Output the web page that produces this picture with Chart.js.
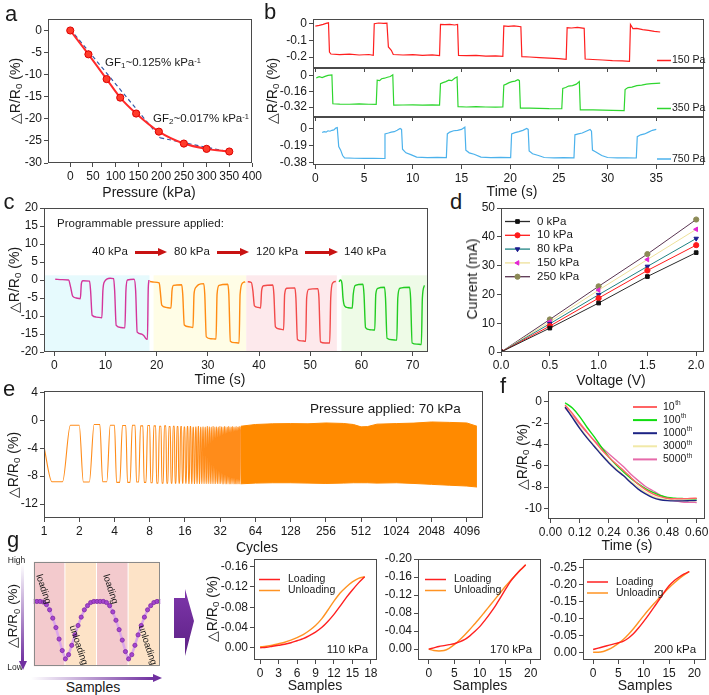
<!DOCTYPE html>
<html>
<head>
<meta charset="utf-8">
<script src="https://cdn.jsdelivr.net/npm/chart.js@4.4.1/dist/chart.umd.min.js"></script>
<style>
  body { margin: 0; background: #fff; }
  #stage { position: relative; width: 709px; height: 695px; overflow: hidden;
           font-family: 'Liberation Sans', Arial, sans-serif; color: #1a1a1a; }
  .t { position: absolute; white-space: nowrap; line-height: 1; }
  .t sub { font-size: 0.7em; vertical-align: -0.25em; line-height: 0; }
  .t sup { font-size: 0.65em; vertical-align: 0.5em; line-height: 0; }
  .shape { position: absolute; }
</style>
</head>
<body>
<div id="stage"></div>
<script>
// ---------- panel a: response vs pressure
const aPressure = [0, 40, 80, 110, 145, 195, 250, 300, 350];
const aResponse = [0, -5.4, -11.0, -15.2, -18.8, -22.9, -25.6, -26.8, -27.4];
const aFitLow = [[0, 0.3], [198, -24.3]];
const aFitHigh = [[198, -24.3], [355, -27.6]];
const aXTicks = [0, 50, 100, 150, 200, 250, 300, 350, 400];
const aYTicks = [-30, -25, -20, -15, -10, -5, 0];

// ---------- panel b: [time s, dR/R0 %]
const bPa150 = [[0.0,-0.015],[0.4,-0.010],[0.8,-0.004],[1.1,0.002],[1.35,0.005],[1.45,-0.170],[1.6,-0.182],[2.5,-0.186],[3.5,-0.183],[4.5,-0.188],[5.5,-0.185],[5.95,-0.190],
  [6.05,0.000],[6.5,0.004],[7.0,0.002],[7.35,0.003],[7.5,-0.140],[7.8,-0.160],[8.0,-0.185],[9.0,-0.188],[10.0,-0.186],[11.0,-0.190],[12.0,-0.187],[12.75,-0.191],
  [12.85,-0.004],[13.3,-0.006],[13.8,-0.004],[14.3,-0.008],[14.6,-0.005],[14.7,-0.190],[15.5,-0.192],[16.5,-0.190],[17.5,-0.195],[18.5,-0.193],[19.25,-0.196],
  [19.35,-0.014],[19.8,-0.016],[20.4,-0.013],[21.1,-0.018],[21.2,-0.198],[22,-0.200],[23,-0.204],[24,-0.207],[25,-0.210],[25.75,-0.214],
  [25.85,-0.024],[26.3,-0.026],[26.9,-0.022],[27.6,-0.028],[27.7,-0.212],[28.5,-0.215],[29.5,-0.218],[30.5,-0.222],[31.5,-0.223],[32.25,-0.226],
  [32.35,-0.005],[32.6,-0.030],[33,-0.028],[33.6,-0.036],[34.2,-0.040],[34.8,-0.046],[35.4,-0.050]];
const bPa350 = [[0.1,-0.022],[0.4,-0.010],[0.7,-0.018],[1.0,-0.006],[1.3,0.004],[1.7,0.008],[1.8,-0.285],[2.5,-0.288],[3.5,-0.290],[4.5,-0.287],[5.5,-0.290],[6.25,-0.292],
  [6.35,-0.045],[6.6,-0.050],[6.8,-0.030],[7.1,-0.025],[7.4,-0.015],[7.7,-0.008],[7.95,0.010],[8.05,-0.300],[9,-0.298],[10,-0.297],[11,-0.300],[12,-0.296],[12.75,-0.300],
  [12.85,-0.080],[13.1,-0.070],[13.4,-0.060],[13.7,-0.045],[14.0,-0.050],[14.3,-0.025],[14.55,-0.012],[14.65,-0.315],[15.5,-0.318],[16.5,-0.314],[17.5,-0.318],[18.5,-0.320],[19.25,-0.318],
  [19.35,-0.095],[19.6,-0.085],[19.9,-0.070],[20.2,-0.060],[20.5,-0.055],[20.8,-0.040],[20.95,-0.050],[21.05,-0.330],[22,-0.330],[23,-0.332],[24,-0.335],[25.3,-0.336],
  [25.4,-0.130],[25.7,-0.120],[26.0,-0.105],[26.4,-0.100],[26.8,-0.085],[27.1,-0.058],[27.2,-0.348],[28.5,-0.348],[29.5,-0.350],[30.5,-0.352],[31.7,-0.354],
  [31.8,-0.140],[32.1,-0.120],[32.5,-0.115],[33,-0.100],[33.5,-0.095],[34,-0.085],[34.5,-0.080],[35,-0.078],[35.4,-0.076]];
const bPa750 = [[0.7,-0.045],[0.9,-0.035],[1.1,-0.040],[1.3,-0.025],[1.5,-0.030],[1.7,-0.020],[1.9,-0.015],[2.1,0.005],[2.25,0.010],[2.4,-0.200],[2.6,-0.240],[2.8,-0.300],[3.0,-0.325],[4,-0.330],[5,-0.332],[6,-0.330],[7.05,-0.333],
  [7.15,-0.060],[7.5,-0.050],[7.8,-0.040],[8.1,-0.035],[8.4,-0.020],[8.7,0.000],[8.85,-0.010],[8.95,-0.230],[9.3,-0.270],[9.8,-0.290],[10.4,-0.318],[11.5,-0.322],[12.5,-0.320],[13.45,-0.323],
  [13.55,-0.060],[13.8,-0.040],[14.2,-0.025],[14.6,-0.020],[15.0,-0.010],[15.35,0.015],[15.45,-0.240],[15.8,-0.270],[16.3,-0.285],[17,-0.318],[18,-0.322],[19,-0.320],[20.05,-0.324],
  [20.15,-0.060],[20.5,-0.045],[20.9,-0.035],[21.3,-0.020],[21.7,0.000],[21.85,-0.010],[21.95,-0.250],[22.3,-0.280],[22.9,-0.300],[23.5,-0.322],[24.5,-0.325],[25.5,-0.323],[26.55,-0.326],
  [26.65,-0.070],[27,-0.060],[27.4,-0.050],[27.8,-0.030],[28.2,-0.010],[28.35,-0.030],[28.45,-0.240],[28.8,-0.260],[29.1,-0.280],[29.4,-0.300],[30,-0.322],[31,-0.326],[32,-0.325],[32.95,-0.327],
  [33.05,-0.090],[33.4,-0.070],[33.8,-0.060],[34.2,-0.040],[34.6,-0.020],[35.0,-0.010]];
const bXTicks = [0, 5, 10, 15, 20, 25, 30, 35];
const bYTicks150 = [-0.2, -0.1, 0];
const bYTicks350 = [-0.32, -0.16, 0];
const bYTicks750 = [-0.38, -0.19, 0];

// ---------- panel c: [time s, dR/R0 %]
const c40kPa = [[0.2,0.2],[1.5,0.1],[2.8,0.0],[3.2,-2.0],[3.6,-4.5],[4.3,-5.0],[5.1,-5.2],[5.3,-1.0],[5.6,-0.2],[6.9,-0.3],[7.1,-3],[7.4,-9.8],[8.2,-10.3],[9.3,-10.5],[9.5,-3.0],[9.8,-0.5],[10.9,0.5],[11.6,0.4],[11.8,-3],[12.1,-12.6],[13.0,-13.2],[13.8,-13.3],[14.0,-3],[14.3,0.0],[15.6,0.2],[15.9,-3],[16.2,-14.5],[17.0,-15.0],[17.5,-15.5],[18.0,-16.4],[18.2,-16.5],[18.35,-3],[18.5,0]];
const c80kPa = [[18.7,-0.4],[19.5,-0.6],[20.5,-0.8],[20.7,-3],[21.0,-7.0],[21.8,-7.6],[22.8,-7.8],[23.0,-3],[23.3,-1.5],[24.9,-1.3],[25.1,-4],[25.4,-12.5],[26.3,-13.0],[27.1,-13.2],[27.3,-4],[27.7,-2.0],[28.2,-1.3],[29.2,-1.0],[29.4,-4],[29.7,-15.8],[30.6,-16.3],[31.6,-16.4],[31.8,-4],[32.2,-1.5],[33.9,-1.2],[34.1,-4],[34.4,-17.0],[35.2,-17.4],[36.1,-17.5],[36.3,-4],[36.8,-0.8],[37.3,-0.5]];
const c120kPa = [[37.8,-0.5],[38.5,-0.7],[38.8,-3],[39.1,-7.2],[39.8,-7.6],[40.3,-7.8],[40.5,-3],[40.9,-1.6],[42.7,-1.4],[42.9,-4],[43.2,-13.0],[44.0,-13.6],[44.8,-13.8],[45.0,-4],[45.4,-2.3],[47.0,-2.2],[47.2,-5],[47.5,-16.5],[48.3,-16.9],[49.1,-17.0],[49.3,-5],[49.7,-2.6],[51.5,-2.4],[51.7,-5],[52.0,-17.2],[52.9,-17.5],[53.8,-17.5],[54.0,-5],[54.4,-0.8],[55.0,-0.4]];
const c140kPa = [[55.6,-0.5],[55.9,0.0],[56.2,-1.0],[56.4,-5],[56.7,-7.2],[57.4,-7.7],[58.2,-7.8],[58.4,-4],[58.8,-1.5],[60.3,-1.2],[60.5,-4],[60.8,-13.2],[61.6,-13.8],[62.6,-13.9],[62.8,-4],[63.2,-2.3],[64.5,-2.0],[64.7,-5],[65.0,-16.2],[66.0,-16.6],[66.9,-16.7],[67.1,-5],[67.5,-2.3],[69.4,-2.0],[69.6,-5],[69.9,-17.5],[70.8,-17.8],[71.7,-17.9],[71.9,-5],[72.3,-1.5]];
const cBandFrom = [-2, 19.4, 37.5, 56.1];
const cBandTo = [18.6, 37.5, 55.2, 73];
const cBandTop = 1.3;
const cXTicks = [0, 10, 20, 30, 40, 50, 60, 70];
const cYTicks = [-20, -15, -10, -5, 0, 5, 10, 15, 20];

// ---------- panel d: I-V
const dVoltage = [0, 0.5, 1.0, 1.5, 2.0];
const d0kPa = [0, 8.3, 17.0, 26.2, 34.5];
const d10kPa = [0, 9.0, 18.7, 28.3, 37.1];
const d80kPa = [0, 9.8, 19.9, 29.7, 39.4];
const d150kPa = [0, 10.5, 21.5, 32.1, 42.6];
const d250kPa = [0, 11.3, 22.8, 34.0, 46.0];
const dXTicks = [0, 0.5, 1.0, 1.5, 2.0];
const dYTicks = [0, 10, 20, 30, 40, 50];

// ---------- panel e: cycling at 70 kPa
const eStart = -3.8;
const eTop = [-0.7,-0.6,-0.7,-0.75,-0.7,-0.8,-0.75,-0.8,-0.85,-0.8,-0.9,-0.85,-0.9,-0.9,-0.95,-0.9,
  -0.9,-1.0,-0.95,-0.9,-1.0,-0.95,-1.0,-0.9,-0.95,-1.0,-0.9,-1.0,-0.95,-1.0,-0.9,-0.95,
  -1.0,-0.9,-0.95,-1.0,-0.9,-0.95,-1.0,-0.9,-1.0,-0.95,-0.9,-1.0,-0.95,-0.9,-0.95];
const eBot = [-8.8,-8.85,-8.8,-8.9,-8.9,-8.85,-8.9,-8.95,-9.0,-9.0,-9.0,-9.0,-9.0,-9.0,-9.0,-9.0,
  -9.05,-9.05,-9.05,-9.05,-9.05,-9.05,-9.05,-9.05,-9.05,-9.05,-9.05,-9.05,-9.05,-9.05,-9.05,-9.05,
  -9.1,-9.1,-9.1,-9.1,-9.1,-9.1,-9.1,-9.1,-9.1,-9.1,-9.1,-9.1,-9.1,-9.1,-9.1];
const ePhase = [0.17, 0.44, 0.68];
const eEnvCycle = [48, 64, 90, 128, 180, 256, 360, 440, 512, 580, 700, 1024, 1448, 2048, 2896, 4096, 5000];
const eEnvTop = [-0.85, -0.6, -0.5, -0.47, -0.5, -0.38, -0.45, -0.6, -0.94, -0.9, -0.55, -0.47, -0.4, -0.24, -0.3, -0.38, -0.85];
const eEnvBot = [-9.1, -9.0, -8.95, -8.95, -9.0, -9.05, -9.0, -8.95, -8.95, -8.95, -9.0, -8.95, -9.05, -9.18, -9.3, -9.42, -9.56];
const eXTicks = [1, 2, 4, 8, 16, 32, 64, 128, 256, 512, 1024, 2048, 4096];
const eYTicks = [-12, -8, -4, 0, 4];

// ---------- panel f: single loading at various cycles
const fTime = [0.06,0.09,0.12,0.15,0.18,0.21,0.24,0.27,0.30,0.33,0.36,0.39,0.42,0.45,0.48,0.51,0.54,0.57,0.60];
const f10th = [-0.3,-1.1,-2.0,-2.85,-3.7,-4.5,-5.2,-5.85,-6.45,-7.1,-7.75,-8.25,-8.65,-8.9,-9.05,-9.1,-9.1,-9.08,-9.05];
const f100th = [-0.1,-0.6,-1.4,-2.4,-3.3,-4.3,-5.2,-5.95,-6.6,-7.2,-7.7,-8.15,-8.5,-8.8,-8.98,-9.05,-9.08,-9.1,-9.1];
const f1000th = [-0.5,-1.5,-2.5,-3.4,-4.2,-5.0,-5.75,-6.4,-6.95,-7.6,-8.2,-8.65,-9.0,-9.2,-9.28,-9.3,-9.3,-9.28,-9.25];
const f3000th = [-0.4,-1.4,-2.4,-3.3,-4.1,-4.9,-5.65,-6.3,-6.9,-7.5,-8.0,-8.5,-8.85,-9.1,-9.2,-9.25,-9.28,-9.3,-9.3];
const f5000th = [-0.6,-1.3,-2.1,-2.9,-3.65,-4.3,-4.9,-5.5,-6.1,-6.8,-7.4,-7.95,-8.35,-8.75,-9.1,-9.3,-9.4,-9.43,-9.45];
const fXTicks = [0, 0.12, 0.24, 0.36, 0.48, 0.60];
const fYTicks = [-10, -8, -6, -4, -2, 0];

// ---------- panel g: schematic and hysteresis
const gSchematic = [0.62,0.62,0.62,0.615,0.59,0.54,0.46,0.37,0.26,0.15,0.07,0.11,0.20,0.30,0.39,0.47,0.54,0.58,0.61,0.62,
  0.62,0.62,0.62,0.61,0.58,0.52,0.44,0.35,0.25,0.14,0.07,0.11,0.20,0.30,0.39,0.47,0.54,0.58,0.61,0.62,0.62];
const gBandFrom = [0, 10, 20, 30];
const gBandTo = [10, 20, 30, 40];
const gSamples110 = [0,1,2,3,4,5,6,7,8,9,10,11,12,13,14,15,16,17];
const gLoad110 = [0.000,-0.001,-0.003,-0.005,-0.007,-0.010,-0.014,-0.018,-0.024,-0.031,-0.040,-0.052,-0.066,-0.082,-0.099,-0.114,-0.128,-0.140];
const gUnload110 = [-0.002,-0.003,-0.005,-0.008,-0.011,-0.015,-0.020,-0.026,-0.034,-0.044,-0.057,-0.074,-0.092,-0.108,-0.120,-0.130,-0.137,-0.140];
const gSamples170 = [0,1,2,3,4,5,6,7,8,9,10,11,12,13,14,15,16,17,18,19];
const gLoad170 = [0.000,-0.003,-0.006,-0.008,-0.010,-0.012,-0.016,-0.021,-0.029,-0.039,-0.050,-0.064,-0.079,-0.095,-0.113,-0.132,-0.150,-0.164,-0.176,-0.187];
const gUnload170 = [0.000,0.003,0.004,0.003,-0.002,-0.010,-0.020,-0.031,-0.043,-0.056,-0.069,-0.083,-0.097,-0.111,-0.125,-0.139,-0.152,-0.164,-0.176,-0.187];
const gSamples200 = [0,1,2,3,4,5,6,7,8,9,10,11,12,13,14,15,16,17,18,19];
const gLoad200 = [-0.008,-0.012,-0.016,-0.020,-0.024,-0.028,-0.033,-0.042,-0.055,-0.072,-0.091,-0.111,-0.132,-0.154,-0.176,-0.196,-0.211,-0.222,-0.231,-0.238];
const gUnload200 = [0.000,0.000,-0.002,-0.008,-0.016,-0.026,-0.038,-0.053,-0.070,-0.089,-0.108,-0.126,-0.143,-0.159,-0.175,-0.190,-0.204,-0.217,-0.228,-0.238];
const gXTicks110 = [0, 3, 6, 9, 12, 15, 18];
const gXTicks = [0, 5, 10, 15, 20];
const gYTicks110 = [-0.16, -0.12, -0.08, -0.04, 0];
const gYTicks170 = [-0.20, -0.16, -0.12, -0.08, -0.04, 0];
const gYTicks200 = [-0.25, -0.20, -0.15, -0.10, -0.05, 0];

const stage = document.getElementById('stage');
const FONT = "'Liberation Sans', Arial, sans-serif";
Chart.defaults.font.family = FONT;

function put(html, x, y, size, opt) {
  opt = opt || {};
  const d = document.createElement('div');
  d.className = 't';
  d.innerHTML = html;
  d.style.fontSize = size + 'px';
  d.style.left = x + 'px';
  d.style.top = y + 'px';
  const ax = opt.left ? '0' : '-50%';
  d.style.transform = 'translate(' + ax + ',-50%)' + (opt.rot ? ' rotate(' + opt.rot + 'deg)' : '');
  stage.appendChild(d);
}

function shape(css) {
  const d = document.createElement('div');
  d.className = 'shape';
  d.style.cssText += css;
  stage.appendChild(d);
}

const framePlugin = {
  id: 'frame',
  afterDatasetsDraw(chart, args, o) {
    const a = chart.chartArea, ctx = chart.ctx;
    ctx.save();
    ctx.strokeStyle = o.color || '#4a4a4a';
    ctx.lineWidth = 1;
    ctx.strokeRect(Math.round(a.left) + 0.5, Math.round(a.top) + 0.5,
                   Math.round(a.right - a.left) - 1, Math.round(a.bottom - a.top) - 1);
    ctx.restore();
  }
};

const bandPlugin = {
  id: 'bands',
  beforeDatasetsDraw(chart, args, o) {
    if (!o.from) return;
    const ctx = chart.ctx, a = chart.chartArea, x = chart.scales.x, y = chart.scales.y;
    ctx.save();
    for (let i = 0; i < o.from.length; i++) {
      const x0 = Math.max(a.left, x.getPixelForValue(o.from[i]));
      const x1 = Math.min(a.right, x.getPixelForValue(o.to[i]));
      const y0 = o.top == null ? a.top : y.getPixelForValue(o.top);
      ctx.fillStyle = o.colors[i];
      ctx.fillRect(x0, y0, x1 - x0 - (o.gap || 0), a.bottom - y0);
    }
    ctx.restore();
  }
};

const legendPlugin = {
  id: 'pageLegend',
  afterDraw(chart, args, o) {
    if (!o.items) return;
    const ctx = chart.ctx;
    ctx.save();
    ctx.textBaseline = 'middle';
    for (let i = 0; i < o.items.length; i++) {
      const ds = chart.data.datasets[o.items[i]];
      const x = o.x - o.ox, y = o.y + i * o.dy - o.oy;
      ctx.setLineDash([]);
      ctx.strokeStyle = ds.borderColor;
      ctx.lineWidth = o.lw || 1.5;
      ctx.beginPath(); ctx.moveTo(x, y); ctx.lineTo(x + o.len, y); ctx.stroke();
      if (ds.pointRadius > 0) {
        ctx.fillStyle = ds.pointBackgroundColor;
        ctx.strokeStyle = ds.pointBorderColor;
        ctx.lineWidth = 1;
        Chart.helpers.drawPoint(ctx, { pointStyle: ds.pointStyle, radius: ds.pointRadius,
          rotation: ds.pointRotation || 0, borderWidth: 1 }, x + o.len / 2, y);
      }
      ctx.fillStyle = '#1a1a1a';
      ctx.font = o.size + 'px ' + FONT;
      const label = ds.label;
      if (o.sup) {
        const main = label.slice(0, -2);
        ctx.fillText(main, x + o.len + o.gap, y);
        const w = ctx.measureText(main).width;
        ctx.font = (o.size * 0.62) + 'px ' + FONT;
        ctx.fillText(label.slice(-2), x + o.len + o.gap + w + 0.5, y - 3.5);
      } else {
        ctx.fillText(label, x + o.len + o.gap, y);
      }
    }
    ctx.restore();
  }
};

function axis(min, max, ticks, fmt, more) {
  const a = {
    type: 'linear', min: min, max: max,
    border: { display: false },
    grid: { drawOnChartArea: false, tickLength: 4, tickColor: '#4a4a4a' },
    ticks: { color: '#1a1a1a', font: { family: FONT, size: 12 }, padding: 2,
             maxRotation: 0, autoSkip: false },
    afterBuildTicks: s => { s.ticks = ticks.map(v => ({ value: v })); }
  };
  if (fmt) a.ticks.callback = fmt;
  return Object.assign(a, more || {});
}

const fix = n => v => (Math.abs(v) < 1e-9 ? 0 : v).toFixed(n);
const fixZ = n => v => (Math.abs(v) < 1e-9 ? '0' : v.toFixed(n));
const blank = () => '';

function zeroPad(s) { s.paddingLeft = 0; s.paddingRight = 0; s.paddingTop = 0; s.paddingBottom = 0; }

function mk(frame, pad, datasets, scales, extra) {
  extra = extra || {};
  const c = document.createElement('canvas');
  const w = frame.r - frame.l + pad.l + pad.r;
  const h = frame.b - frame.t + pad.t + pad.b;
  c.width = w; c.height = h;
  c.style.cssText = 'position:absolute;left:' + (frame.l - pad.l) + 'px;top:' + (frame.t - pad.t) +
    'px;width:' + w + 'px;height:' + h + 'px';
  stage.appendChild(c);
  scales.x.afterFit = s => { s.height = pad.b; zeroPad(s); };
  scales.y.afterFit = s => { s.width = pad.l; zeroPad(s); };
  const legend = extra.legend || {};
  legend.ox = frame.l - pad.l;
  legend.oy = frame.t - pad.t;
  return new Chart(c, {
    type: 'line',
    data: { datasets: datasets },
    options: {
      responsive: false, animation: false, devicePixelRatio: 1,
      layout: { padding: { top: pad.t, right: pad.r, left: 0, bottom: 0 } },
      elements: { point: { radius: 0 }, line: { borderWidth: 1.3 } },
      plugins: {
        legend: { display: false }, tooltip: { enabled: false },
        pageLegend: legend, bands: extra.bands || {}, frame: { color: extra.frameColor }
      },
      scales: scales
    },
    plugins: [bandPlugin, framePlugin, legendPlugin]
  });
}

const pts = (xs, ys) => xs.map((x, i) => ({ x: x, y: ys[i] }));
const pairs = arr => arr.map(p => ({ x: p[0], y: p[1] }));
const smooth = { cubicInterpolationMode: 'monotone' };

// ===== a =====
mk({ l: 48, t: 19, r: 252, b: 163 }, { l: 34, t: 10, r: 14, b: 22 }, [
  Object.assign({ data: pts(aPressure, aResponse), borderColor: '#ff2a2a', borderWidth: 2,
    pointRadius: 3.6, pointBackgroundColor: '#ff3b2a', pointBorderColor: '#dd0000', pointBorderWidth: 1 }, smooth),
  { data: pairs(aFitLow), borderColor: '#3458a8', borderWidth: 1.2, borderDash: [4, 3] },
  { data: pairs(aFitHigh), borderColor: '#3458a8', borderWidth: 1.2, borderDash: [4, 3] }
], { x: axis(-49, 400, aXTicks), y: axis(-30, 2.6, aYTicks) });

// ===== b =====
const bl = 313, br = 704;
mk({ l: bl, t: 19, r: br, b: 68 }, { l: 40, t: 10, r: 4, b: 4 }, [
  { label: '150 Pa', data: pairs(bPa150), borderColor: '#ff1f1f', borderWidth: 1.2 }
], { x: axis(-0.24, 39.9, bXTicks, blank), y: axis(-0.266, 0.028, bYTicks150, fixZ(1)) },
  { legend: { items: [0], x: 657, y: 60.5, dy: 0, len: 14, gap: 1, size: 10.5 } });
mk({ l: bl, t: 68, r: br, b: 117 }, { l: 40, t: 2, r: 4, b: 4 }, [
  { label: '350 Pa', data: pairs(bPa350), borderColor: '#2fd62f', borderWidth: 1.2 }
], { x: axis(-0.24, 39.9, bXTicks, blank), y: axis(-0.42, 0.079, bYTicks350, fixZ(2)) },
  { legend: { items: [0], x: 657, y: 108.5, dy: 0, len: 14, gap: 1, size: 10.5 } });
mk({ l: bl, t: 117, r: br, b: 165 }, { l: 40, t: 2, r: 4, b: 22 }, [
  { label: '750 Pa', data: pairs(bPa750), borderColor: '#4cb2ec', borderWidth: 1.2 }
], { x: axis(-0.24, 39.9, bXTicks), y: axis(-0.405, 0.128, bYTicks750, fixZ(2)) },
  { legend: { items: [0], x: 657, y: 159, dy: 0, len: 14, gap: 1, size: 10.5 } });

// ===== c =====
mk({ l: 44, t: 208, r: 428, b: 352 }, { l: 32, t: 10, r: 10, b: 22 }, [
  Object.assign({ data: pairs(c40kPa), borderColor: '#d4359b', borderWidth: 1.4 }, smooth),
  Object.assign({ data: pairs(c80kPa), borderColor: '#ff8c14', borderWidth: 1.4 }, smooth),
  Object.assign({ data: pairs(c120kPa), borderColor: '#f24a4a', borderWidth: 1.4 }, smooth),
  Object.assign({ data: pairs(c140kPa), borderColor: '#22cc22', borderWidth: 1.4 }, smooth)
], { x: axis(-2, 73, cXTicks), y: axis(-20, 20, cYTicks) },
  { bands: { from: cBandFrom, to: cBandTo, top: cBandTop,
             colors: ['#e6fafd', '#fffde6', '#fde9ec', '#eefbe7'] } });

// ===== d =====
const dPoint = (label, ys, line, fill, style, rot) => ({
  label: label, data: pts(dVoltage, ys), borderColor: line, borderWidth: 1,
  pointRadius: 2.6, pointStyle: style, pointRotation: rot || 0,
  pointBackgroundColor: fill, pointBorderColor: fill
});
mk({ l: 501, t: 208, r: 704, b: 352 }, { l: 24, t: 10, r: 6, b: 22 }, [
  dPoint('0 kPa', d0kPa, '#2a2a2a', '#111', 'rect'),
  dPoint('10 kPa', d10kPa, '#ff1a1a', '#ff1a1a', 'circle'),
  dPoint('80 kPa', d80kPa, '#1f8383', '#1c1c8e', 'triangle', 180),
  dPoint('150 kPa', d150kPa, '#eee19a', '#e324d4', 'triangle', -90),
  dPoint('250 kPa', d250kPa, '#5a3552', '#8c8a56', 'circle')
], { x: axis(0, 2.08, dXTicks, fix(1)), y: axis(0, 50, dYTicks) },
  { legend: { items: [0, 1, 2, 3, 4], x: 505, y: 221.5, dy: 13.8, len: 25, gap: 7, size: 11.5, lw: 1.3 } });

// ===== e =====
const eCycles = [{ x: 1, y: eStart }];
for (let i = 0; i < eTop.length; i++) {
  const n = i + 1;
  eCycles.push({ x: n + ePhase[0], y: eBot[i] }, { x: n + ePhase[1], y: eBot[i] },
               { x: n + ePhase[2], y: eTop[i] }, { x: n + 1, y: eTop[i] });
}
mk({ l: 44, t: 391, r: 483, b: 518 }, { l: 30, t: 10, r: 18, b: 22 }, [
  Object.assign({ data: eCycles, borderColor: '#ff8c1a', borderWidth: 1.1 }, smooth),
  { data: pts(eEnvCycle, eEnvTop), borderColor: '#ff8a00', backgroundColor: '#ff8a00', borderWidth: 1, fill: '+1' },
  { data: pts(eEnvCycle, eEnvBot), borderColor: '#ff8a00', borderWidth: 1, fill: false }
], {
  x: axis(1, 5630, eXTicks, v => String(v), { type: 'logarithmic' }),
  y: axis(-14, 4.2, eYTicks)
});

// ===== f =====
mk({ l: 548, t: 391, r: 705, b: 519 }, { l: 26, t: 10, r: 4, b: 22 }, [
  Object.assign({ label: '10th', data: pts(fTime, f10th), borderColor: '#ff6464', borderWidth: 1.4 }, smooth),
  Object.assign({ label: '100th', data: pts(fTime, f100th), borderColor: '#10dd10', borderWidth: 1.4 }, smooth),
  Object.assign({ label: '1000th', data: pts(fTime, f1000th), borderColor: '#1c2384', borderWidth: 1.4 }, smooth),
  Object.assign({ label: '3000th', data: pts(fTime, f3000th), borderColor: '#f1e9a8', borderWidth: 1.4 }, smooth),
  Object.assign({ label: '5000th', data: pts(fTime, f5000th), borderColor: '#e66aaa', borderWidth: 1.4 }, smooth)
], { x: axis(-0.01, 0.634, fXTicks, fix(2)), y: axis(-11, 1, fYTicks) },
  { legend: { items: [0, 1, 2, 3, 4], x: 633, y: 407, dy: 13.1, len: 24, gap: 6, size: 10.5, sup: true, lw: 2 } });

// ===== g schematic =====
mk({ l: 29, t: 557, r: 165, b: 671 }, { l: 0, t: 0, r: 0, b: 0 }, [
  { data: gSchematic.map((v, i) => ({ x: i, y: v })), borderColor: '#dca6ea', borderWidth: 2.5,
    pointRadius: 2.1, pointBackgroundColor: '#a645cf', pointBorderColor: '#7e2aa3', pointBorderWidth: 0.8 }
], {
  x: { type: 'linear', display: false, min: 0, max: 40 },
  y: { type: 'linear', display: false, min: 0, max: 1 }
}, { bands: { from: gBandFrom, to: gBandTo, colors: ['#f3cacd', '#fde3c7', '#f3cacd', '#fde3c7'], gap: 1 },
     frameColor: '#8a8a8a' });

// ===== g hysteresis =====
const gLegend = (x, y) => ({ items: [0, 1], x: x, y: y, dy: 11, len: 21, gap: 8, size: 10.5, lw: 1.5 });
mk({ l: 254, t: 559, r: 377, b: 660 }, { l: 34, t: 10, r: 8, b: 22 }, [
  Object.assign({ label: 'Loading', data: pts(gSamples110, gLoad110), borderColor: '#ff2020', borderWidth: 1.4 }, smooth),
  Object.assign({ label: 'Unloading', data: pts(gSamples110, gUnload110), borderColor: '#ff9322', borderWidth: 1.4 }, smooth)
], { x: axis(-1, 19, gXTicks110), y: axis(-0.175, 0.024, gYTicks110, fix(2), { reverse: true }) },
  { legend: gLegend(259, 579.5) });
mk({ l: 418, t: 559, r: 541, b: 660 }, { l: 34, t: 10, r: 8, b: 22 }, [
  Object.assign({ label: 'Loading', data: pts(gSamples170, gLoad170), borderColor: '#ff2020', borderWidth: 1.4 }, smooth),
  Object.assign({ label: 'Unloading', data: pts(gSamples170, gUnload170), borderColor: '#ff9322', borderWidth: 1.4 }, smooth)
], { x: axis(-2.1, 22, gXTicks), y: axis(-0.2, 0.024, gYTicks170, fix(2), { reverse: true }) },
  { legend: gLegend(425, 579.5) });
mk({ l: 583, t: 559, r: 706, b: 660 }, { l: 34, t: 10, r: 3, b: 22 }, [
  Object.assign({ label: 'Loading', data: pts(gSamples200, gLoad200), borderColor: '#ff2020', borderWidth: 1.4 }, smooth),
  Object.assign({ label: 'Unloading', data: pts(gSamples200, gUnload200), borderColor: '#ff9322', borderWidth: 1.4 }, smooth)
], { x: axis(-2, 22.3, gXTicks), y: axis(-0.275, 0.023, gYTicks200, fix(2), { reverse: true }) },
  { legend: gLegend(587, 582) });

// ===== text =====
const DR = '\u25B3R/R<sub>0</sub> (%)';
[['a', 11, 14], ['b', 270, 12], ['c', 9, 202], ['d', 456, 202], ['e', 9, 389], ['f', 503, 386], ['g', 13, 540]]
  .forEach(p => put(p[0], p[1], p[2], 22));

put('Pressure (kPa)', 149, 192, 14);
put(DR, 15, 91, 14, { rot: -90 });
put('GF<sub>1</sub>~0.125% kPa<sup>-1</sup>', 105, 63, 11.5, { left: true });
put('GF<sub>2</sub>~0.017% kPa<sup>-1</sup>', 153, 118.5, 11.5, { left: true });

put('Time (s)', 512, 191, 14);
put(DR, 272, 91, 14, { rot: -90 });

put('Time (s)', 220, 379, 14);
put(DR, 14, 280, 14, { rot: -90 });
put('Programmable pressure applied:', 57, 223.5, 11.5, { left: true });
[['40 kPa', 92], ['80 kPa', 174], ['120 kPa', 256], ['140 kPa', 344]]
  .forEach(p => put(p[0], p[1], 252, 11.5, { left: true }));
[[135, 166], [217, 248], [305, 337]].forEach(p => {
  shape('left:' + p[0] + 'px;top:250.5px;width:' + (p[1] - p[0] - 8) + 'px;height:3px;background:#c81212;');
  shape('left:' + (p[1] - 8) + 'px;top:247.5px;width:0;height:0;border-top:4.5px solid transparent;' +
        'border-bottom:4.5px solid transparent;border-left:9px solid #c81212;');
});

put('Voltage (V)', 611, 380, 14);
put('Current (mA)', 472, 279, 14, { rot: -90 });

put('Cycles', 257, 547, 14);
put(DR, 13, 465, 14, { rot: -90 });
put('Pressure applied: 70 kPa', 310, 408.5, 13.5, { left: true });

put('Time (s)', 627, 545, 14);
put(DR, 522, 457, 14, { rot: -90 });

// g schematic decorations
put('High', 16.5, 560, 8.5);
put('Low', 15, 667, 8.5);
put(DR, 13, 616, 13.5, { rot: -90 });
put('Samples', 93, 687, 14);
put('loading', 43.5, 589, 9.5, { rot: 72 });
put('unloading', 79, 645, 9.5, { rot: 72 });
put('loading', 111, 589, 9.5, { rot: 72 });
put('unloading', 147.5, 645, 9.5, { rot: 72 });
shape('left:21px;top:564px;width:3px;height:98px;background:linear-gradient(to bottom,#ffffff,#7030a0);');
shape('left:18.5px;top:661px;width:0;height:0;border-left:4px solid transparent;border-right:4px solid transparent;border-top:9px solid #7030a0;');
shape('left:31px;top:677px;width:123px;height:3px;background:linear-gradient(to right,#ffffff,#7030a0);');
shape('left:153px;top:674px;width:0;height:0;border-top:4.5px solid transparent;border-bottom:4.5px solid transparent;border-left:9px solid #7030a0;');
shape('left:174px;top:589px;width:20px;height:68px;background:linear-gradient(#7e36ab,#5c2184);' +
      'clip-path:polygon(0 9px,11px 9px,11px 0,20px 32px,11px 67px,11px 49px,0 49px);');

// g hysteresis texts
put(DR, 212, 609, 14, { rot: -90 });
put('Samples', 315, 685, 14);
put('Samples', 480, 685, 14);
put('Samples', 645, 685, 14);
put('110 kPa', 347.5, 650, 11.5);
put('170 kPa', 511, 650, 11.5);
put('200 kPa', 675, 650, 11.5);
</script>
</body>
</html>
